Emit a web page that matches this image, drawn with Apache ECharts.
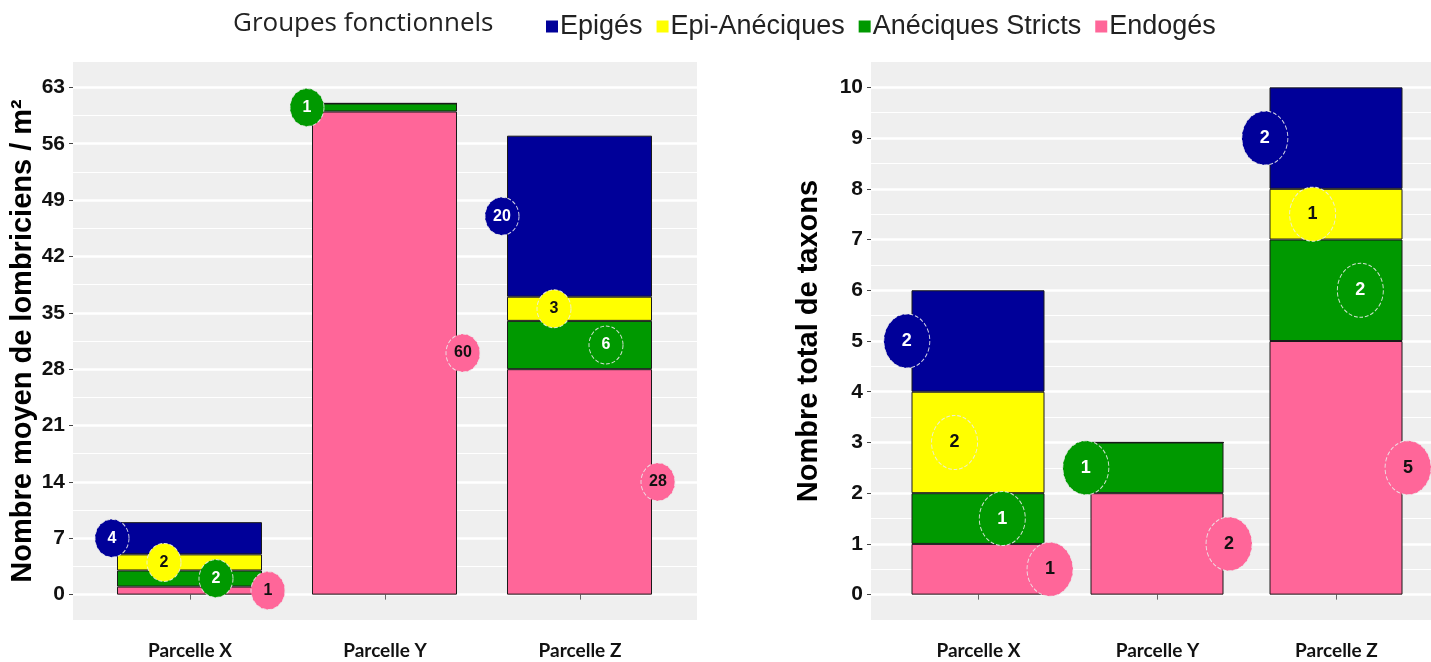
<!DOCTYPE html>
<html><head><meta charset="utf-8">
<script src="https://cdn.jsdelivr.net/npm/echarts@6/dist/echarts.min.js"></script>
<style>html,body{margin:0;padding:0;background:#fff}#c{width:1431px;height:662px}</style>
</head><body><div id="c"></div>
<script>
const categories = ['Parcelle X', 'Parcelle Y', 'Parcelle Z'];
const groups = ['Epigés', 'Epi-Anéciques', 'Anéciques Stricts', 'Endogés'];
const groupColors = ['#000099', '#FFFF00', '#009900', '#FF6699'];
const labelTextColors = ['#ffffff', '#111111', '#ffffff', '#111111'];

// Left panel: mean number of earthworms / m²
const abondEpiges = [4, 0, 20];
const abondEpiAneciques = [2, 0, 3];
const abondAneciquesStricts = [2, 1, 6];
const abondEndoges = [1, 60, 28];

// Right panel: total number of taxa
const taxEpiges = [2, 0, 2];
const taxEpiAneciques = [2, 0, 1];
const taxAneciquesStricts = [1, 1, 2];
const taxEndoges = [1, 2, 5];

const leftTicks = [0, 7, 14, 21, 28, 35, 42, 49, 56, 63];
const rightTicks = [0, 1, 2, 3, 4, 5, 6, 7, 8, 9, 10];
const catPositions = [1, 2, 3];

function minorOf(ticks) {
  const m = [];
  for (let i = 0; i < ticks.length - 1; i++) m.push((ticks[i] + ticks[i + 1]) / 2);
  return m;
}

const leftData = [abondEpiges, abondEpiAneciques, abondAneciquesStricts, abondEndoges];
const rightData = [taxEpiges, taxEpiAneciques, taxAneciquesStricts, taxEndoges];

const FONT = 'Liberation Sans';
const ORDER = [3, 2, 1, 0]; // stacking from bottom: Endogés, Anéciques Stricts, Epi-Anéciques, Epigés
const LABEL_SPREAD = 0.4;   // labels spread across the bar from -0.4 to +0.4

function panelSeries(dataSets, og, ig, yOuter, yInner, stackName, barW, symSize, fontSize) {
  const series = [];
  ORDER.forEach(g => {
    series.push({
      name: groups[g], type: 'bar', stack: stackName,
      xAxisIndex: ig, yAxisIndex: yInner,
      barWidth: barW,
      itemStyle: { color: groupColors[g], borderColor: '#1a1a1a', borderWidth: 1 },
      emphasis: { disabled: true },
      data: dataSets[g].slice(),
      z: 2
    });
  });
  // label positions: spread the present groups of each bar from left to right
  const pts = groups.map(() => []);
  catPositions.forEach((cx, i) => {
    const present = [0, 1, 2, 3].filter(g => dataSets[g][i] > 0);
    const m = present.length;
    present.forEach((g, k) => {
      const off = m > 1 ? -LABEL_SPREAD + 2 * LABEL_SPREAD * k / (m - 1) : 0;
      let base = 0;
      for (const h of ORDER) { if (h === g) break; base += dataSets[h][i]; }
      const v = dataSets[g][i];
      pts[g].push([cx + off, base + v / 2, v]);
    });
  });
  ORDER.forEach(g => {
    series.push({
      name: 'lab_' + stackName + g, type: 'scatter',
      xAxisIndex: og, yAxisIndex: yOuter,
      symbol: 'circle', symbolSize: symSize, clip: false,
      itemStyle: { color: groupColors[g], borderColor: 'rgba(235,235,235,0.9)', borderType: 'dashed', borderWidth: 1, opacity: 1 },
      label: {
        show: true, position: 'inside', formatter: p => p.value[2],
        color: labelTextColors[g], fontWeight: 'bold', fontSize: fontSize, fontFamily: FONT
      },
      emphasis: { disabled: true },
      data: pts[g], z: 5
    });
  });
  return series;
}

function outerXAxis(gridIdx, max) {
  return {
    gridIndex: gridIdx, type: 'value', min: 0.4, max: max,
    axisLine: { show: false },
    axisTick: { show: true, length: 5, customValues: catPositions, lineStyle: { color: '#666' } },
    axisLabel: {
      customValues: catPositions, margin: 21,
      formatter: v => categories[Math.round(v) - 1],
      fontFamily: 'Lato', fontWeight: 'bold', fontSize: 19, color: '#111'
    },
    splitLine: { show: false }
  };
}
function innerXAxis(gridIdx) {
  return { gridIndex: gridIdx, type: 'category', data: categories, show: false };
}

function outerYAxes(gridIdx, min, max, ticks, name, nameGap) {
  return [{
    gridIndex: gridIdx, type: 'value', min: min, max: max,
    name: name, nameLocation: 'middle', nameGap: nameGap,
    nameTextStyle: { fontSize: 29, fontWeight: 'bold', color: '#000', fontFamily: FONT },
    axisLine: { show: false },
    axisTick: { show: true, length: 4, customValues: ticks, lineStyle: { color: '#444' } },
    axisLabel: { customValues: ticks, fontSize: 21, fontWeight: 'bold', color: '#111', margin: 8, fontFamily: FONT },
    splitLine: { show: true, lineStyle: { color: '#ffffff', width: 2.5 } }
  }, {
    gridIndex: gridIdx, type: 'value', min: min, max: max, position: 'left',
    axisLine: { show: false },
    axisTick: { show: false, customValues: minorOf(ticks) },
    axisLabel: { show: false, customValues: minorOf(ticks) },
    splitLine: { show: true, lineStyle: { color: '#ffffff', width: 1.2 } }
  }];
}
function innerYAxis(gridIdx, min, max) {
  return { gridIndex: gridIdx, type: 'value', min: min, max: max, show: false, splitLine: { show: false } };
}

const chart = echarts.init(document.getElementById('c'), null, { renderer: 'canvas' });
chart.setOption({
  animation: false,
  backgroundColor: '#ffffff',
  title: {
    text: 'Groupes fonctionnels', left: 228, top: 6,
    textStyle: { fontSize: 26, fontWeight: 'normal', color: '#222', fontFamily: 'Open Sans' }
  },
  legend: {
    data: groups, left: 541, top: 8, itemWidth: 12, itemHeight: 12, itemGap: 14,
    icon: 'rect', selectedMode: false,
    itemStyle: { borderWidth: 0 },
    textStyle: { fontSize: 27, color: '#222', fontFamily: FONT, padding: [0, 0, 0, -3] }
  },
  grid: [
    { left: 73, right: 734, top: 62, bottom: 42, show: true, backgroundColor: '#EFEFEF', borderWidth: 0 },
    { left: 92, right: 754, top: 62, bottom: 42, show: false },
    { left: 871, right: 0, top: 62, bottom: 42, show: true, backgroundColor: '#EFEFEF', borderWidth: 0 },
    { left: 888.5, right: 5.5, top: 62, bottom: 42, show: false }
  ],
  xAxis: [outerXAxis(0, 3.6), innerXAxis(1), outerXAxis(2, 3.528), innerXAxis(3)],
  yAxis: [
    ...outerYAxes(0, -3.15, 66.15, leftTicks, 'Nombre moyen de lombriciens / m²', 33),
    innerYAxis(1, -3.15, 66.15),
    ...outerYAxes(2, -0.5, 10.5, rightTicks, 'Nombre total de taxons', 48),
    innerYAxis(3, -0.5, 10.5)
  ],
  series: [
    ...panelSeries(leftData, 0, 1, 0, 2, 'L', 145, [34, 38], 16),
    ...panelSeries(rightData, 2, 3, 3, 5, 'R', 133, [46, 54], 18)
  ]
});
</script>
</body></html>
